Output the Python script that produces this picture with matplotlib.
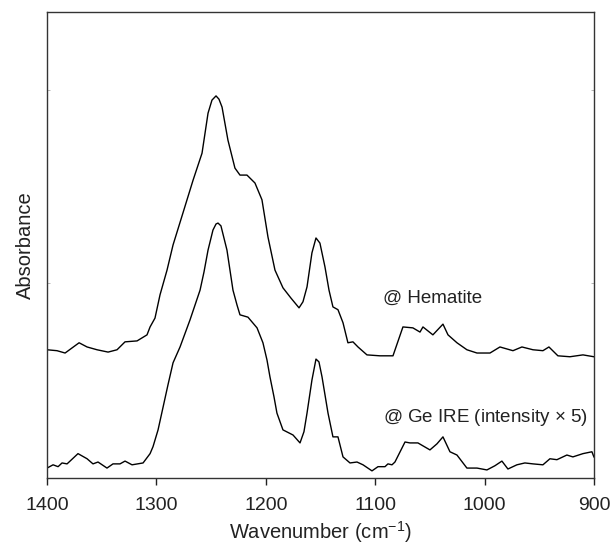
import numpy as np
import matplotlib.pyplot as plt

plt.rcParams['font.family'] = ['Liberation Sans', 'DejaVu Sans']
plt.rcParams['mathtext.default'] = 'regular'

# upper spectrum (on hematite), wavenumber in cm-1, absorbance in arbitrary units
hem_wn = [1400, 1390.9, 1383.5, 1377.1, 1370.7, 1363.4, 1354.3, 1344.2, 1336.0, 1328.7,
          1317.7, 1308.6, 1305.8, 1301.3, 1296.7, 1290.3, 1284.8, 1275.7, 1266.5, 1258.3,
          1252.8, 1249.2, 1245.5, 1242.8, 1240.0, 1234.6, 1228.2, 1223.6, 1217.2, 1209.9,
          1203.5, 1198.0, 1191.6, 1184.3, 1177.0, 1169.6, 1166.0, 1162.3, 1157.8, 1154.1,
          1150.5, 1145.9, 1142.2, 1138.6, 1134.0, 1129.4, 1124.9, 1120.3, 1115.7, 1107.5,
          1095.6, 1083.7, 1074.6, 1065.5, 1059.0, 1056.3, 1047.2, 1038.0, 1033.4, 1025.2,
          1016.1, 1006.9, 995.0, 985.9, 974.0, 965.8, 955.7, 946.6, 941.1, 932.9,
          921.9, 910.0, 900.0]
hem_abs = [27.5, 27.3, 26.8, 27.9, 29.0, 28.1, 27.5, 27.0, 27.5, 29.2,
           29.4, 30.7, 32.4, 34.3, 39.3, 44.6, 50.0, 56.9, 63.9, 69.7,
           78.3, 81.1, 82.0, 81.3, 79.6, 72.5, 66.5, 65.0, 65.0, 63.3,
           59.7, 51.7, 44.6, 40.8, 38.6, 36.5, 37.8, 41.0, 48.3, 51.5,
           50.4, 45.3, 40.3, 36.7, 36.1, 33.3, 29.0, 29.2, 28.1, 26.4,
           26.2, 26.2, 32.4, 32.2, 31.3, 32.4, 30.7, 33.0, 30.7, 29.0,
           27.5, 26.8, 26.8, 28.1, 27.3, 28.1, 27.5, 27.3, 28.1, 26.2,
           26.0, 26.4, 26.0]

# lower spectrum (on Ge IRE, intensity x5)
ge_wn = [1400, 1394.5, 1389.9, 1386.3, 1381.7, 1371.7, 1363.4, 1358.0, 1353.4, 1345.2,
         1339.7, 1333.3, 1328.7, 1322.3, 1312.2, 1305.8, 1303.1, 1298.5, 1293.9, 1289.4,
         1284.8, 1278.4, 1269.3, 1260.1, 1256.5, 1252.8, 1248.3, 1245.5, 1243.7, 1241.0,
         1235.5, 1230.0, 1226.3, 1223.6, 1216.3, 1208.0, 1202.6, 1198.9, 1196.2, 1192.5,
         1189.8, 1184.3, 1175.1, 1168.7, 1165.1, 1162.3, 1157.8, 1154.1, 1151.4, 1148.6,
         1143.1, 1138.6, 1134.0, 1129.4, 1123.0, 1116.6, 1111.1, 1102.9, 1097.4, 1091.0,
         1088.3, 1084.6, 1081.9, 1072.7, 1068.2, 1060.9, 1049.9, 1043.5, 1038.0, 1031.6,
         1025.2, 1016.1, 1006.9, 997.8, 990.5, 984.1, 978.6, 970.4, 963.1, 955.7,
         946.6, 940.2, 933.8, 924.7, 919.2, 910.0, 901.8, 900.0]
ge_abs = [2.1, 2.8, 2.4, 3.2, 3.0, 5.2, 4.1, 3.0, 3.4, 2.1,
          3.0, 3.0, 3.6, 2.8, 3.2, 5.2, 6.7, 10.3, 15.2, 20.0,
          24.7, 28.1, 33.9, 40.3, 44.2, 48.9, 53.2, 54.5, 54.7, 54.1,
          48.9, 40.3, 37.1, 35.0, 34.5, 32.2, 29.0, 25.3, 21.7, 17.4,
          13.9, 10.3, 9.2, 7.5, 9.9, 13.9, 21.0, 25.5, 24.9, 21.7,
          13.9, 8.8, 8.8, 4.5, 3.2, 3.4, 2.8, 1.5, 2.4, 2.4,
          3.0, 2.8, 3.4, 7.7, 7.5, 7.5, 6.0, 7.3, 8.8, 5.6,
          4.9, 2.1, 2.1, 1.7, 2.6, 3.6, 1.9, 2.8, 3.2, 3.0,
          2.8, 4.1, 3.9, 4.9, 4.5, 5.2, 5.6, 4.5]

fig = plt.figure(figsize=(6.11, 5.48), dpi=100)
ax = fig.add_axes([0.077, 0.128, 0.895, 0.85])

ax.plot(hem_wn, hem_abs, color='black', lw=1.0)
ax.plot(ge_wn, ge_abs, color='black', lw=1.0)

ax.text(1093, 38.6, '@ Hematite', fontsize=13.5, color='#222222', va='center')
ax.text(1093, 12.9, '@ Ge IRE (intensity $\\times$ 5)', fontsize=13.5, color='#222222', va='center')

ax.set_xlim(1400, 900)
ax.set_ylim(0, 100)
ax.set_xticks([1400, 1300, 1200, 1100, 1000, 900])
ax.set_yticks([41.8, 83.3])
ax.set_yticklabels([])
ax.tick_params(axis='x', direction='out', length=5, width=1, labelsize=14, pad=9, colors='#222222')
ax.tick_params(axis='y', direction='in', length=2, width=0.5, color='#999999', right=True)

ax.set_xlabel('Wavenumber (cm$^{-1}$)', fontsize=14.5, color='#222222')
ax.xaxis.set_label_coords(0.5, -0.088)
ax.set_ylabel('Absorbance', fontsize=14.5, color='#222222')
ax.yaxis.set_label_coords(-0.022, 0.5)

for s in ax.spines.values():
    s.set_linewidth(1.0)
    s.set_color('#333333')

fig.savefig('out.png', dpi=100)
